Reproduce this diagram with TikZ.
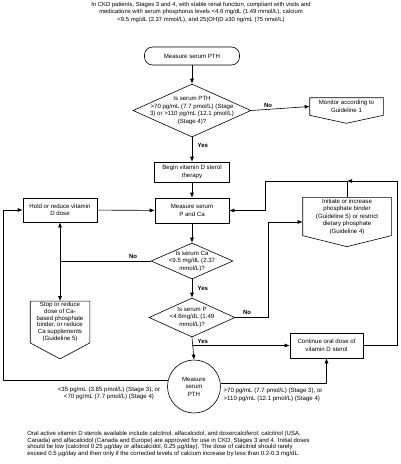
\documentclass[tikz,border=0pt]{standalone}
\usepackage{fontspec}
\setmainfont{Liberation Sans}
\usetikzlibrary{shapes.geometric,calc,arrows.meta}

\tikzset{
  procbox/.style={draw, rectangle, align=center, inner sep=1pt},
  pentabox/.style={rectangle, align=center, inner sep=1pt},
  decision/.style={draw, diamond, inner sep=0pt},
  ans/.style={font=\fontsize{6}{7.5}\selectfont\bfseries},
}

\begin{document}
\begin{tikzpicture}[x=1pt,y=-1pt,>={Latex[length=5pt,width=4pt]},line width=0.6pt,font=\fontsize{6.1}{7.5}\selectfont]
 \useasboundingbox (0,0) rectangle (400,464);
 % heading and notes
 \node[align=center, inner sep=0, font=\fontsize{5.9}{7.5}\selectfont] (head) at (201,12) {In CKD patients, Stages 3 and 4, with stable renal function, compliant with visits and\\
   medications with serum phosphorus levels <4.6 mg/dL (1.49 mmol/L), calcium\\
   <9.5 mg/dL (2.37 mmol/L), and 25(OH)D ≥30 ng/mL (75 nmol/L)};
 \node[anchor=north west, align=left, inner sep=0, font=\fontsize{6}{6.6}\selectfont] (foot) at (27,431)
   {Oral active vitamin D sterols available include calcitriol, alfacalcidol, and doxercalciferol; calcitriol (USA,\\
   Canada) and alfacalcidol (Canada and Europe) are approved for use in CKD, Stages 3 and 4. Initial doses\\
   should be low (calcitriol 0.25 µg/day or alfacalcidol, 0.25 µg/day). The dose of calcitriol should rarely\\
   exceed 0.5 µg/day and then only if the corrected levels of calcium increase by less than 0.2-0.3 mg/dL.};

 % main column
 \node[procbox, rounded corners=8pt, minimum width=95pt, minimum height=18pt] (start) at (192,56) {Measure serum PTH};
 \node[decision, minimum width=118pt, minimum height=53pt,
   label={[align=center]center:Is serum PTH\\>70 pg/mL (7.7 pmol/L) (Stage\\3) or >110 pg/mL (12.1 pmol/L)\\(Stage 4)?}] (q1) at (192,110.5) {};
 \node[pentabox, minimum width=73pt, minimum height=17pt] (monitor) at (346.5,106.5) {Monitor according to\\Guideline 1};
 \node[procbox, minimum width=75pt, minimum height=20pt] (begin) at (192,172) {Begin vitamin D sterol\\therapy};
 \node[procbox, minimum width=74pt, minimum height=25pt] (pca) at (192,210.5) {Measure serum\\P and Ca};
 \node[procbox, minimum width=74pt, minimum height=24pt] (hold) at (60,210) {Hold or reduce vitamin\\D dose};
 \node[decision, minimum width=82pt, minimum height=36pt,
   label={[align=center]center:Is serum Ca\\<9.5 mg/dL (2.37\\mmol/L)?}] (q2) at (192,261) {};
 \node[pentabox, minimum width=88pt, minimum height=31pt] (init) at (347,216.5) {Initiate or increase\\phosphate binder\\(Guideline 5) or restrict\\dietary phosphate\\(Guideline 4)};
 \node[pentabox, minimum width=59pt, minimum height=40pt, font=\fontsize{6.1}{6.7}\selectfont] (stop) at (60,322) {Stop or reduce\\dose of Ca-\\based phosphate\\binder, or reduce\\Ca supplements\\(Guideline 5)};
 \node[decision, minimum width=86pt, minimum height=39pt,
   label={[align=center]center:Is serum P\\<4.6mg/dL (1.49\\mmol/L)?}] (q3) at (192,317.5) {};
 \node[procbox, minimum width=73pt, minimum height=25pt] (cont) at (326.5,345.5) {Continue oral dose of\\vitamin D sterol};
 \node[draw, circle, minimum size=53pt, inner sep=0, align=center] (pth) at (194,386.5) {Measure\\serum\\PTH};

 % pointed boxes
 \foreach \n/\d in {monitor/8,init/11,stop/16}
  \draw (\n.north west) -- (\n.north east) -- (\n.south east) -- ($(\n.south)+(0,\d)$) -- (\n.south west) -- cycle;

 % bends
 \coordinate (pbend) at (268,222);
 \coordinate (ptop) at (265,181);
 \coordinate (rtop) at (397,181);
 \coordinate (ltop) at (3,210);

 % connectors
 \draw[->] (start) -- (q1);
 \draw[->] (q1.east) -- (monitor.west);
 \draw[->] (q1.south) -- (begin.north);
 \draw[->] (begin) -- (pca);
 \draw[->] (hold) -- (pca);
 \draw[->] (pca) -- (q2);
 \draw (q2.west) -- (q2.west -| hold.south);
 \draw[<->] (hold.south) -- (stop.north);
 \draw[->] (q2.south) -- (q3.north);
 \draw[->] (q3.east) -| (pbend) -- (pbend -| init.west);
 \draw[->] (init.north) |- (ptop) |- (pca.east);
 \draw[->] (q3.south) -- (pth.north);
 \draw[->] (q3.south |- cont.west) -- (cont.west);
 \draw[->] (cont.east) -| (rtop) -- (rtop -| init.north);
 \draw[->] (pth.167) -| (ltop) -- (hold.west);
 \draw[->] (pth.7) -| (cont.south);

 % answers
 \node[ans] (no1) at (268,105) {No};
 \node[ans, anchor=west] (yes1) at (194,145) {Yes};
 \node[ans] (no2) at (133,256.5) {No};
 \node[ans, anchor=west] (yes2) at (194,288) {Yes};
 \node[ans] (no3) at (247,312.5) {No};
 \node[ans, anchor=west] (yes3) at (194,341) {Yes};
 \node[align=center] (lowlbl) at (109,393.5) {<35 pg/mL (3.85 pmol/L) (Stage 3), or\\<70 pg/mL (7.7 pmol/L) (Stage 4)};
 \node[anchor=west, align=left] (highlbl) at (220,395) {>70 pg/mL (7.7 pmol/L) (Stage 3), or\\>110 pg/mL (12.1 pmol/L) (Stage 4)};
\end{tikzpicture}
\end{document}
